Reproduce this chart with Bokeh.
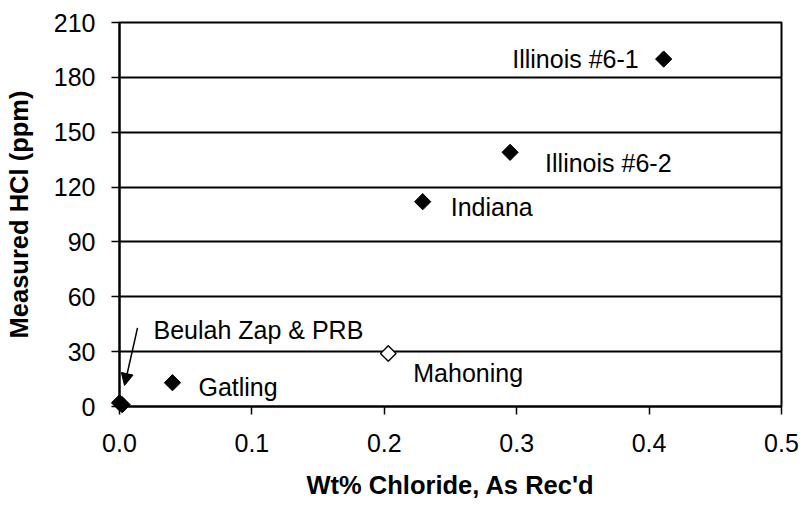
import numpy as np
from bokeh.plotting import figure
from bokeh.models import (Range1d, FixedTicker, NumeralTickFormatter, Arrow,
                          NormalHead, ColumnDataSource)
from bokeh.core.properties import value
from bokeh.embed import file_html
from bokeh.resources import INLINE

# ---- data ----
coals = ["Beulah Zap", "PRB", "Gatling", "Indiana", "Illinois #6-2", "Illinois #6-1"]
chloride = [0.000, 0.002, 0.040, 0.229, 0.295, 0.411]
hcl = [2, 1, 13, 112, 139, 190]

open_coal = ["Mahoning"]
open_chloride = [0.203]
open_hcl = [29]

x_ticks = [0.0, 0.1, 0.2, 0.3, 0.4, 0.5]
y_ticks = [0, 30, 60, 90, 120, 150, 180, 210]

# labels placed next to their points (offsets in screen pixels)
lab_text = ["Gatling", "Mahoning", "Indiana", "Illinois #6-2"]
lab_x = [0.040, 0.203, 0.229, 0.295]
lab_y = [13, 29, 112, 139]
lab_dx = [26, 25, 28, 35]
lab_dy = [4, 20, 5, 11]

right_lab_text = ["Illinois #6-1"]
right_lab_x = [0.411]
right_lab_y = [190]

# arrow annotation for Beulah Zap & PRB
arrow_tail = (0.0136, 43)
arrow_tip = (0.0038, 11.5)
arrow_text = "Beulah Zap & PRB"

FONT = "Liberation Sans"
FS = "25px"

p = figure(width=803, height=506, output_backend="svg", toolbar_location=None,
           x_range=Range1d(0, 0.5), y_range=Range1d(0, 210),
           min_border_left=119, min_border_right=22, min_border_top=22,
           min_border_bottom=100)
p.background_fill_color = "white"
p.border_fill_color = "white"
p.outline_line_color = "black"
p.outline_line_width = 2
p.outline_line_alpha = 1

# axes
p.xaxis.ticker = FixedTicker(ticks=x_ticks)
p.yaxis.ticker = FixedTicker(ticks=y_ticks)
p.xaxis.formatter = NumeralTickFormatter(format="0.0")
p.xaxis.axis_label = "Wt% Chloride, As Rec'd"
p.yaxis.axis_label = "Measured HCl (ppm)"
for ax in (p.xaxis, p.yaxis):
    ax.axis_line_color = "black"
    ax.axis_line_width = 2
    ax.major_tick_line_color = "black"
    ax.major_tick_line_width = 1.5
    ax.major_tick_out = 8
    ax.major_tick_in = 0
    ax.minor_tick_line_color = None
    ax.major_label_text_font = FONT
    ax.major_label_text_font_size = FS
    ax.major_label_text_color = "black"
    ax.axis_label_text_font = FONT
    ax.axis_label_text_font_size = "25.5px"
    ax.axis_label_text_font_style = "bold"
    ax.axis_label_text_color = "black"
p.xaxis.major_label_standoff = 19
p.yaxis.major_label_standoff = 16
p.xaxis.axis_label_standoff = 16
p.yaxis.axis_label_standoff = 18

p.xgrid.visible = False
p.ygrid.ticker = FixedTicker(ticks=y_ticks)
p.ygrid.grid_line_color = "black"
p.ygrid.grid_line_width = 1.8

# points
src = ColumnDataSource(dict(x=chloride, y=hcl, name=coals))
p.scatter("x", "y", source=src, marker="square", angle=np.pi / 4, size=11.5,
          fill_color="black", line_color="black", level="overlay")
src_o = ColumnDataSource(dict(x=open_chloride, y=open_hcl, name=open_coal))
p.scatter("x", "y", source=src_o, marker="square", angle=np.pi / 4, size=11,
          fill_color="white", line_color="black", line_width=1.4, level="overlay")

# labels
p.text(x=lab_x, y=lab_y, text=lab_text, x_offset=lab_dx, y_offset=lab_dy,
       text_font=value(FONT), text_font_size=value(FS), text_color="black",
       text_align="left", text_baseline="middle")
p.text(x=right_lab_x, y=right_lab_y, text=right_lab_text, x_offset=-25, y_offset=0,
       text_font=value(FONT), text_font_size=value(FS), text_color="black",
       text_align="right", text_baseline="middle")

# arrow + its label
p.add_layout(Arrow(end=NormalHead(size=12, fill_color="black", line_color="black"),
                   x_start=arrow_tail[0], y_start=arrow_tail[1],
                   x_end=arrow_tip[0], y_end=arrow_tip[1],
                   line_color="black", line_width=1.5))
p.text(x=[arrow_tail[0]], y=[arrow_tail[1]], text=[arrow_text], x_offset=16, y_offset=2,
       text_font=value(FONT), text_font_size=value(FS), text_color="black",
       text_align="left", text_baseline="middle")

open("out.html", "w").write(file_html(p, INLINE))
